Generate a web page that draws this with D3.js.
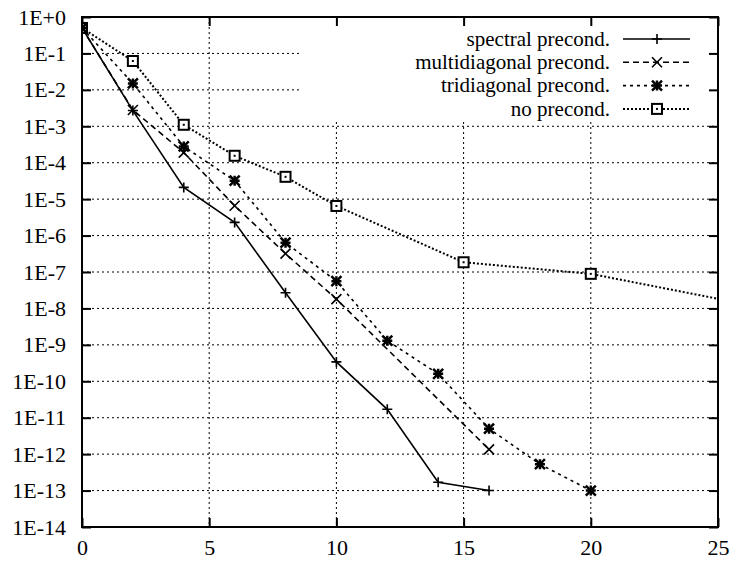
<!DOCTYPE html>
<meta charset="utf-8">
<style>
body { margin: 0; background: #fff; }
.grid line { stroke: #000; stroke-width: 1; stroke-dasharray: 2,3; }
.serif, .serif text { font-family: "Liberation Serif", "DejaVu Serif", serif !important; }
</style>
<svg width="730" height="561"></svg>
<script src="https://d3js.org/d3.v7.min.js"></script>
<script>

// iterations and residuals
var spectralIt  = [0, 2, 4, 6, 8, 10, 12, 14, 16];
var spectralRes = [0.5, 2.7e-3, 2.1e-5, 2.3e-6, 2.7e-8, 3.4e-10, 1.7e-11, 1.7e-13, 1e-13];

var multiIt  = [0, 2, 4, 6, 8, 10, 16];
var multiRes = [0.5, 2.8e-3, 1.9e-4, 6.6e-6, 3.2e-7, 1.8e-8, 1.35e-12];

var triIt  = [0, 2, 4, 6, 8, 10, 12, 14, 16, 18, 20];
var triRes = [0.5, 1.5e-2, 2.8e-4, 3.2e-5, 6.4e-7, 5.6e-8, 1.3e-9, 1.6e-10, 5e-12, 5.3e-13, 1e-13];

var noIt  = [0, 2, 4, 6, 8, 10, 15, 20, 30];
var noRes = [0.5, 6.2e-2, 1.1e-3, 1.55e-4, 4.1e-5, 6.5e-6, 1.85e-7, 8.9e-8, 3.8e-9];

var names = ["spectral precond.", "multidiagonal precond.", "tridiagonal precond.", "no precond."];

var xTicks = [0, 5, 10, 15, 20, 25];
var yTicks = [1, 1e-1, 1e-2, 1e-3, 1e-4, 1e-5, 1e-6, 1e-7, 1e-8, 1e-9, 1e-10, 1e-11, 1e-12, 1e-13, 1e-14];

var svg = d3.select("svg");
var pl = 82, pr = 718, pt = 17, pb = 527;

var x = d3.scaleLinear().domain([0, 25]).range([pl, pr]);
var y = d3.scaleLog().domain([1e-14, 1]).range([pb, pt]);

var series = [
  {name: names[0], it: spectralIt, res: spectralRes, dash: null,  mark: "plus"},
  {name: names[1], it: multiIt,    res: multiRes,    dash: "6,4", mark: "cross"},
  {name: names[2], it: triIt,      res: triRes,      dash: "3,4", mark: "star"},
  {name: names[3], it: noIt,       res: noRes,       dash: "2,2", mark: "box"}
];

// grid
var grid = svg.append("g").attr("class", "grid");
grid.selectAll(".gy").data(yTicks.slice(1, -1)).enter().append("line")
    .attr("x1", pl).attr("x2", pr)
    .attr("y1", function(d) { return y(d); }).attr("y2", function(d) { return y(d); });
grid.selectAll(".gx").data(xTicks.slice(1, -1)).enter().append("line")
    .attr("x1", function(d) { return x(d); }).attr("x2", function(d) { return x(d); })
    .attr("y1", pt).attr("y2", pb);

// key area blanks the grid like gnuplot does
svg.append("rect").attr("x", 300).attr("y", pt + 1).attr("width", pr - 301).attr("height", 103).attr("fill", "#fff");

// axes with inward ticks on all four sides
function fmt(d) {
  var e = Math.round(Math.log10(d));
  return "1E" + (e >= 0 ? "+" + e : e);
}
var axes = [];
axes.push(svg.append("g").attr("transform", "translate(" + pl + ",0)")
    .call(d3.axisLeft(y).tickValues(yTicks).tickFormat(fmt).tickSize(-9).tickPadding(16)));
axes.push(svg.append("g").attr("transform", "translate(" + pr + ",0)")
    .call(d3.axisRight(y).tickValues(yTicks).tickFormat("").tickSize(-9)));
axes.push(svg.append("g").attr("transform", "translate(0," + pb + ")")
    .call(d3.axisBottom(x).tickValues(xTicks).tickFormat(d3.format("d")).tickSize(-9).tickPadding(12)));
axes.push(svg.append("g").attr("transform", "translate(0," + pt + ")")
    .call(d3.axisTop(x).tickValues(xTicks).tickFormat("").tickSize(-9)));
axes.forEach(function(a) {
  a.attr("class", "serif").attr("font-family", null).attr("font-size", 22);
  a.select(".domain").remove();
  a.selectAll(".tick line").attr("stroke", "#000").attr("stroke-width", 2);
  a.selectAll(".tick text").attr("fill", "#000");
});

svg.append("rect").attr("x", pl).attr("y", pt).attr("width", pr - pl).attr("height", pb - pt)
    .attr("fill", "none").attr("stroke", "#000").attr("stroke-width", 2);

svg.append("clipPath").attr("id", "plot").append("rect")
    .attr("x", pl).attr("y", pt).attr("width", pr - pl).attr("height", pb - pt);

function marker(g, type, cx, cy) {
  var h = 5;
  if (type == "plus" || type == "star") {
    g.append("path").attr("d", "M" + (cx - h) + "," + cy + "H" + (cx + h) + "M" + cx + "," + (cy - h) + "V" + (cy + h))
      .attr("stroke", "#000").attr("stroke-width", type == "star" ? 2.5 : 1.6);
  }
  if (type == "cross" || type == "star") {
    g.append("path").attr("d", "M" + (cx - h) + "," + (cy - h) + "L" + (cx + h) + "," + (cy + h) +
        "M" + (cx - h) + "," + (cy + h) + "L" + (cx + h) + "," + (cy - h))
      .attr("stroke", "#000").attr("stroke-width", type == "star" ? 2.5 : 1.6);
  }
  if (type == "box") {
    g.append("rect").attr("x", cx - h).attr("y", cy - h).attr("width", 2 * h).attr("height", 2 * h)
      .attr("fill", "#fff").attr("stroke", "#000").attr("stroke-width", 2);
    g.append("rect").attr("x", cx - 1).attr("y", cy - 1).attr("width", 2).attr("height", 2).attr("fill", "#000");
  }
}

var line = d3.line().x(function(d) { return x(d[0]); }).y(function(d) { return y(d[1]); });
var plot = svg.append("g").attr("clip-path", "url(#plot)");

series.forEach(function(s) {
  var pts = s.it.map(function(v, i) { return [v, s.res[i]]; });
  plot.append("path").datum(pts).attr("d", line)
      .attr("fill", "none").attr("stroke", "#000").attr("stroke-width", s.dash == "2,2" ? 2 : 1.6)
      .attr("stroke-dasharray", s.dash);
});
series.slice().reverse().forEach(function(s) {
  s.it.forEach(function(v, i) {
    if (v <= 25) marker(plot, s.mark, x(v), y(s.res[i]));
  });
});

// legend
var legend = svg.append("g").attr("class", "serif").attr("font-size", 21);
series.forEach(function(s, i) {
  var ly = 39 + i * 23.3;
  legend.append("text").attr("x", 610).attr("y", ly).attr("dy", "0.32em")
      .attr("text-anchor", "end").text(s.name);
  legend.append("line").attr("x1", 623).attr("x2", 690).attr("y1", ly).attr("y2", ly)
      .attr("stroke", "#000").attr("stroke-width", s.dash == "2,2" ? 2 : 1.6).attr("stroke-dasharray", s.dash);
  marker(legend, s.mark, 657, ly);
});

</script>
